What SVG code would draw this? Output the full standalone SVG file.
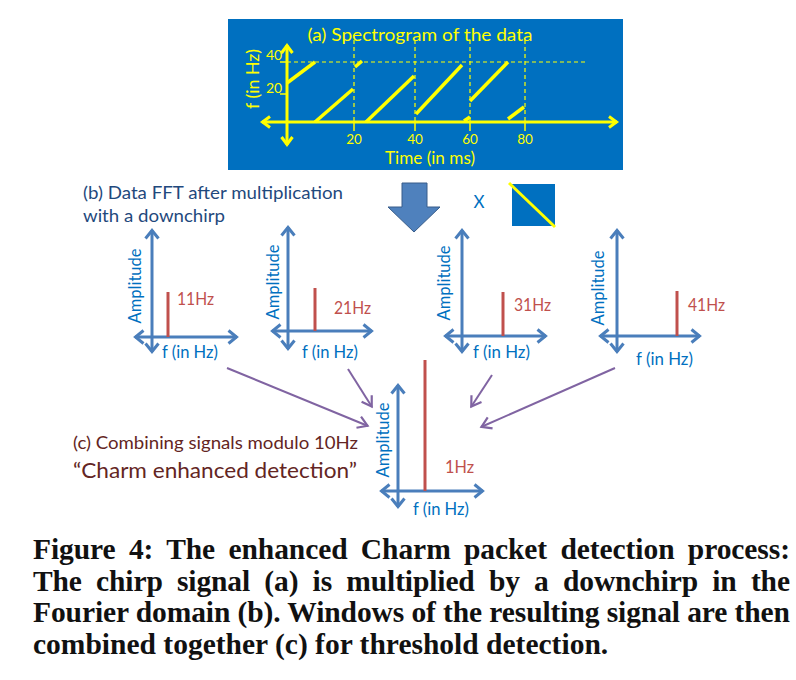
<svg xmlns="http://www.w3.org/2000/svg" width="796" height="680" viewBox="0 0 796 680">
<style>
.y{stroke:#FFFF00;fill:none}
.seg{stroke:#FFFF00;stroke-width:3.5;stroke-linecap:butt;fill:none}
.dash{stroke:#FFFF00;stroke-width:1.2;stroke-dasharray:4 3;fill:none}
.ytxt{fill:#FFFF00;font-family:Lato,"Open Sans",sans-serif}
.ax{stroke:#4A7EBB;stroke-width:3;fill:none}
.bar{stroke:#C0504D;stroke-width:3;fill:none}
.lbl{fill:#0070C0;font-family:Lato,"Open Sans",sans-serif;font-size:17.5px}
.hz{fill:#C0504D;font-family:Lato,"Open Sans",sans-serif;font-size:17px}
.conn{stroke:#8064A2;stroke-width:2;fill:none}
.cap{font-family:"Liberation Serif","Times New Roman",serif;font-weight:bold;font-size:29.5px;fill:#111}
</style>
<defs>
<marker id="mb" markerUnits="userSpaceOnUse" orient="auto-start-reverse" markerWidth="1" markerHeight="1" style="overflow:visible">
<path d="M-8.5,-6.5 L-0.5,0 L-8.5,6.5" fill="none" stroke="#4A7EBB" stroke-width="3"/>
</marker>
<marker id="my" markerUnits="userSpaceOnUse" orient="auto-start-reverse" markerWidth="1" markerHeight="1" style="overflow:visible">
<path d="M-8,-5.5 L-0.5,0 L-8,5.5" fill="none" stroke="#FFFF00" stroke-width="3"/>
</marker>
<marker id="mp" markerUnits="userSpaceOnUse" orient="auto" markerWidth="1" markerHeight="1" style="overflow:visible">
<path d="M-10,-6 L-0.5,0 L-10,6" fill="none" stroke="#8064A2" stroke-width="2.2"/>
</marker>
</defs>
<rect width="796" height="680" fill="#FFFFFF"/>

<g id="spectrogram">
<rect x="228" y="19" width="395" height="151" fill="#0070C0"/>
<text class="ytxt" x="420" y="41" font-size="17" text-anchor="middle" textLength="225" lengthAdjust="spacingAndGlyphs">(a) Spectrogram of the data</text>
<line class="dash" x1="287" y1="62" x2="587" y2="62"/>
<line class="dash" x1="354" y1="40" x2="354" y2="122"/>
<line class="dash" x1="415" y1="40" x2="415" y2="122"/>
<line class="dash" x1="470" y1="40" x2="470" y2="122"/>
<line class="dash" x1="525" y1="40" x2="525" y2="122"/>
<g class="y" stroke-width="1.5">
<line x1="354" y1="122" x2="354" y2="131"/>
<line x1="415" y1="122" x2="415" y2="131"/>
<line x1="470" y1="122" x2="470" y2="131"/>
<line x1="525" y1="122" x2="525" y2="131"/>
<line x1="280" y1="62" x2="287" y2="62"/>
<line x1="280" y1="94" x2="287" y2="94"/>
</g>
<line class="y" stroke-width="3" x1="287" y1="45" x2="287" y2="145" marker-start="url(#my)" marker-end="url(#my)"/>
<line class="y" stroke-width="3" x1="262" y1="122" x2="617" y2="122" marker-start="url(#my)" marker-end="url(#my)"/>
<line class="seg" x1="287" y1="83" x2="315" y2="62"/>
<line class="seg" x1="315" y1="122" x2="353" y2="89"/>
<line class="seg" x1="355" y1="67" x2="362" y2="61"/>
<line class="seg" x1="366" y1="122" x2="414" y2="76"/>
<line class="seg" x1="416" y1="114" x2="462" y2="65"/>
<line class="seg" x1="464" y1="121" x2="470" y2="117"/>
<line class="seg" x1="470" y1="101" x2="508" y2="62"/>
<line class="seg" x1="508" y1="119" x2="524" y2="107"/>
<text class="ytxt" x="274" y="60" font-size="14" text-anchor="middle">40</text>
<text class="ytxt" x="274" y="93" font-size="14" text-anchor="middle">20</text>
<text class="ytxt" x="354" y="144" font-size="13.5" text-anchor="middle">20</text>
<text class="ytxt" x="415" y="144" font-size="13.5" text-anchor="middle">40</text>
<text class="ytxt" x="470" y="144" font-size="13.5" text-anchor="middle">60</text>
<text class="ytxt" x="525" y="144" font-size="13.5" text-anchor="middle">80</text>
<text class="ytxt" x="430" y="164" font-size="17" text-anchor="middle" textLength="90" lengthAdjust="spacingAndGlyphs">Time (in ms)</text>
<text class="ytxt" font-size="18" text-anchor="middle" textLength="60" lengthAdjust="spacingAndGlyphs" transform="translate(259,79) rotate(-90)">f (in Hz)</text>
</g>

<g id="big-arrow">
<polygon points="402,183 427,183 427,207 440,207 414,232 388,207 402,207" fill="#4F81BD" stroke="#385D8A" stroke-width="1"/>
</g>

<g id="times">
<text x="479" y="208" font-family="Lato,'Open Sans',sans-serif" font-size="17" fill="#0070C0" text-anchor="middle">X</text>
</g>

<g id="downchirp">
<rect x="512" y="184" width="43" height="42" fill="#0070C0"/>
<line x1="509" y1="183" x2="555" y2="227" stroke="#FFFF00" stroke-width="3"/>
</g>

<g id="label-b" font-family="Lato,'Open Sans',sans-serif" font-size="17" fill="#1F497D">
<text x="83" y="199" textLength="260" lengthAdjust="spacingAndGlyphs">(b) Data FFT after multiplication</text>
<text x="83" y="222" textLength="142" lengthAdjust="spacingAndGlyphs">with a downchirp</text>
</g>

<g id="chart-11Hz">
<line class="ax" x1="152" y1="230" x2="152" y2="352" marker-start="url(#mb)" marker-end="url(#mb)"/>
<line class="ax" x1="135" y1="337" x2="237" y2="337" marker-start="url(#mb)" marker-end="url(#mb)"/>
<line class="bar" x1="168" y1="292" x2="168" y2="337"/>
<text class="hz" x="177" y="305" textLength="37" lengthAdjust="spacingAndGlyphs">11Hz</text>
<text class="lbl" text-anchor="middle" textLength="75" lengthAdjust="spacingAndGlyphs" transform="translate(141,286) rotate(-90)">Amplitude</text>
<text class="lbl" x="162" y="358" textLength="56" lengthAdjust="spacingAndGlyphs">f (in Hz)</text>
</g>

<g id="chart-21Hz">
<line class="ax" x1="288" y1="227" x2="288" y2="349" marker-start="url(#mb)" marker-end="url(#mb)"/>
<line class="ax" x1="272" y1="331" x2="372" y2="331" marker-start="url(#mb)" marker-end="url(#mb)"/>
<line class="bar" x1="315" y1="288" x2="315" y2="331"/>
<text class="hz" x="334" y="314" textLength="37" lengthAdjust="spacingAndGlyphs">21Hz</text>
<text class="lbl" text-anchor="middle" textLength="75" lengthAdjust="spacingAndGlyphs" transform="translate(279,282) rotate(-90)">Amplitude</text>
<text class="lbl" x="302" y="358" textLength="56" lengthAdjust="spacingAndGlyphs">f (in Hz)</text>
</g>

<g id="chart-31Hz">
<line class="ax" x1="462" y1="230" x2="462" y2="352" marker-start="url(#mb)" marker-end="url(#mb)"/>
<line class="ax" x1="445" y1="336" x2="546" y2="336" marker-start="url(#mb)" marker-end="url(#mb)"/>
<line class="bar" x1="503" y1="292" x2="503" y2="336"/>
<text class="hz" x="514" y="311" textLength="37" lengthAdjust="spacingAndGlyphs">31Hz</text>
<text class="lbl" text-anchor="middle" textLength="75" lengthAdjust="spacingAndGlyphs" transform="translate(450,283) rotate(-90)">Amplitude</text>
<text class="lbl" x="473" y="358" textLength="57" lengthAdjust="spacingAndGlyphs">f (in Hz)</text>
</g>

<g id="chart-41Hz">
<line class="ax" x1="617" y1="230" x2="617" y2="352" marker-start="url(#mb)" marker-end="url(#mb)"/>
<line class="ax" x1="600" y1="336" x2="700" y2="336" marker-start="url(#mb)" marker-end="url(#mb)"/>
<line class="bar" x1="677" y1="291" x2="677" y2="336"/>
<text class="hz" x="688" y="311" textLength="37" lengthAdjust="spacingAndGlyphs">41Hz</text>
<text class="lbl" text-anchor="middle" textLength="75" lengthAdjust="spacingAndGlyphs" transform="translate(604,288) rotate(-90)">Amplitude</text>
<text class="lbl" x="636" y="365" textLength="57" lengthAdjust="spacingAndGlyphs">f (in Hz)</text>
</g>

<g id="chart-1Hz">
<line class="ax" x1="398" y1="385" x2="398" y2="507" marker-start="url(#mb)" marker-end="url(#mb)"/>
<line class="ax" x1="381" y1="491" x2="483" y2="491" marker-start="url(#mb)" marker-end="url(#mb)"/>
<line class="bar" x1="425" y1="360" x2="425" y2="491"/>
<text class="hz" x="445" y="473" textLength="29" lengthAdjust="spacingAndGlyphs">1Hz</text>
<text class="lbl" text-anchor="middle" textLength="75" lengthAdjust="spacingAndGlyphs" transform="translate(389,440) rotate(-90)">Amplitude</text>
<text class="lbl" x="413" y="515" textLength="56" lengthAdjust="spacingAndGlyphs">f (in Hz)</text>
</g>

<g id="label-c" font-family="Lato,'Open Sans',sans-serif" fill="#632523">
<text x="73" y="449" font-size="17" textLength="285" lengthAdjust="spacingAndGlyphs">(c) Combining signals modulo 10Hz</text>
<text x="73" y="478" font-size="21" textLength="284" lengthAdjust="spacingAndGlyphs">“Charm enhanced detection”</text>
</g>

<g id="connectors">
<line class="conn" x1="227" y1="368" x2="368" y2="426" marker-end="url(#mp)"/>
<line class="conn" x1="348" y1="369" x2="372" y2="407" marker-end="url(#mp)"/>
<line class="conn" x1="492" y1="375" x2="471" y2="407" marker-end="url(#mp)"/>
<line class="conn" x1="615" y1="368" x2="481" y2="427" marker-end="url(#mp)"/>
</g>

<g id="caption">
<text class="cap" x="33" y="559" word-spacing="6" textLength="757" lengthAdjust="spacing">Figure 4: The enhanced Charm packet detection process:</text>
<text class="cap" x="33" y="591" word-spacing="7" textLength="757" lengthAdjust="spacing">The chirp signal (a) is multiplied by a downchirp in the</text>
<text class="cap" x="33" y="622" textLength="757" lengthAdjust="spacing">Fourier domain (b). Windows of the resulting signal are then</text>
<text class="cap" x="33" y="654">combined together (c) for threshold detection.</text>
</g>
</svg>
